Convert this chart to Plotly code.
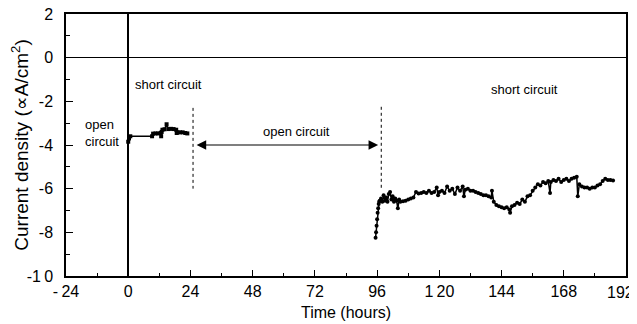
import plotly.graph_objects as go

# ---- data ----
t_first = [0, 0.3, 0.8, 9.2, 9.6, 10.5, 11.5, 12.5, 12.7, 12.9, 13.2, 14, 14.8, 15.5, 16.5, 17.5, 18.5, 18.7, 19, 20, 21, 22, 22.8]
j_first = [-3.85, -3.7, -3.6, -3.6, -3.48, -3.47, -3.47, -3.45, -3.6, -3.4, -3.3, -3.28, -3.05, -3.27, -3.26, -3.27, -3.3, -3.45, -3.42, -3.42, -3.42, -3.45, -3.47]

t_second = [95.4, 95.6, 95.8, 96.0, 96.2, 96.4, 96.6, 96.8, 97.0, 97.5, 98, 98.5, 99, 99.5, 100, 100.5,
            101, 101.5, 102, 102.5, 103, 103.5, 104, 104.5, 105, 106, 107, 108, 109, 110, 111, 112,
            113, 114, 115, 116, 117, 118, 119, 119.5, 120, 121, 122, 123, 124, 125, 126, 127, 128,
            129, 129.5, 130, 131, 132, 133, 134, 135, 136, 137, 138, 139, 140, 140.3, 141, 142, 143,
            144, 145, 146, 147, 147.3, 148, 149, 150, 151, 152, 153, 154, 155, 156, 157, 158, 159,
            160, 161, 162, 162.7, 163, 164, 165, 166, 167, 168, 169, 170, 171, 172, 173, 173.4, 174,
            175, 176, 177, 178, 179, 180, 181, 182, 183, 184, 185, 186, 187]
j_second = [-8.25, -8.0, -7.7, -7.4, -7.1, -6.9, -6.7, -6.6, -6.55, -6.45, -6.6, -6.3, -6.55, -6.4, -6.6, -6.25,
            -6.15, -6.5, -6.35, -6.6, -6.45, -6.55, -6.9, -6.5, -6.6, -6.58, -6.55, -6.5, -6.45, -6.4, -6.15, -6.22,
            -6.2, -6.15, -6.2, -6.1, -6.2, -6.15, -5.95, -6.3, -6.15, -6.1, -6.2, -5.9, -6.1, -6.0, -6.25, -5.95, -6.1,
            -5.9, -6.35, -6.05, -6.0, -6.1, -6.1, -6.15, -6.2, -6.25, -6.3, -6.3, -6.35, -6.4, -6.1, -6.6, -6.75, -6.8,
            -6.85, -6.9, -6.85, -6.95, -7.1, -6.8, -6.75, -6.65, -6.7, -6.5, -6.6, -6.35, -6.3, -6.1, -5.95, -5.8, -5.85,
            -5.7, -5.75, -5.65, -6.2, -5.7, -5.6, -5.65, -5.55, -5.7, -5.6, -5.55, -5.65, -5.55, -5.5, -5.45, -6.35, -5.8,
            -5.9, -5.95, -5.95, -6.0, -5.95, -5.95, -5.85, -5.8, -5.65, -5.55, -5.6, -5.6, -5.63]

x_ticks = [-24, 0, 24, 48, 72, 96, 120, 144, 168, 192]
x_labels = ["-\u200924", "0", "24", "48", "72", "96", "1\u200920", "144", "168", "192"]
y_ticks = [-10, -8, -6, -4, -2, 0, 2]
y_labels = ["-1\u20090", "-8", "-6", "-4", "-2", "0", "2"]

FONT = "Arial, Liberation Sans, sans-serif"

fig = go.Figure()
fig.add_trace(go.Scatter(x=t_first, y=j_first, mode="lines+markers",
                         line=dict(color="black", width=1.5),
                         marker=dict(color="black", size=4, symbol="square"),
                         showlegend=False))
fig.add_trace(go.Scatter(x=t_second, y=j_second, mode="lines+markers",
                         line=dict(color="black", width=1.5),
                         marker=dict(color="black", size=4),
                         showlegend=False))

# dotted vertical markers for switching
for xv, y0 in [(25, -2.3), (97.6, -2.25)]:
    fig.add_shape(type="line", x0=xv, x1=xv, y0=y0, y1=-6.0, xref="x", yref="y",
                  line=dict(color="black", width=1, dash="dot"))

# double-headed arrow
fig.add_annotation(x=96.4, y=-4, ax=25.8, ay=-4, xref="x", yref="y", axref="x", ayref="y",
                   text="", showarrow=True, arrowhead=2, startarrowhead=2, arrowside="end+start",
                   arrowsize=1.6, startarrowsize=1.6, arrowwidth=1.2, arrowcolor="black",
                   standoff=0, startstandoff=0)

ann_font = dict(family=FONT, size=13, color="black")
fig.add_annotation(x=15.5, y=-1.25, text="short circuit", showarrow=False, font=ann_font)
fig.add_annotation(x=153, y=-1.48, text="short circuit", showarrow=False, font=ann_font)
fig.add_annotation(x=65, y=-3.4, text="open circuit", showarrow=False, font=ann_font)
fig.add_annotation(x=-17.6, y=-3.43, text="open<br>circuit", showarrow=False, font=ann_font,
                   xanchor="left", align="left")

# last x tick label drawn right-aligned at the edge so it is not clipped
fig.add_annotation(x=x_ticks[-1], y=0, xref="x", yref="paper", text=x_labels[-1], showarrow=False,
                   xanchor="right", yanchor="top", xshift=10, yshift=-6,
                   font=dict(family=FONT, size=16, color="black"))
x_labels_axis = x_labels[:-1] + [""]

# page body has an 8px margin: figure is sized/margined so the plot area lands at 66..626 x 14..276
fig.update_layout(
    width=629, height=316,
    margin=dict(l=58, r=11, t=6, b=48),
    paper_bgcolor="white", plot_bgcolor="white",
    font=dict(family=FONT, color="black", size=14),
    xaxis=dict(range=[-24, 192], tickvals=x_ticks, ticktext=x_labels_axis, ticks="inside", ticklen=6, tickwidth=1,
               tickcolor="black", showline=True, linecolor="black", linewidth=1.5, mirror=True,
               showgrid=False, zeroline=True, zerolinecolor="black", zerolinewidth=2, automargin=False,
               minor=dict(dtick=12, tick0=0, ticks="inside", ticklen=3, tickcolor="black"),
               tickfont=dict(size=16), ticklabelstandoff=0, ticklabeloverflow="allow",
               title=dict(text="Time (hours)", font=dict(size=16), standoff=8)),
    yaxis=dict(range=[-10, 2], tickvals=y_ticks, ticktext=y_labels, ticks="inside", ticklen=7, tickwidth=1,
               tickcolor="black", showline=True, linecolor="black", linewidth=1.5, mirror=True,
               showgrid=False, zeroline=True, zerolinecolor="black", zerolinewidth=1, automargin=False,
               minor=dict(dtick=1, tick0=0, ticks="inside", ticklen=4, tickcolor="black"),
               tickfont=dict(size=16), ticklabelstandoff=8, ticklabeloverflow="allow",
               title=dict(text="Current density (∝A/cm<sup>2</sup>)", font=dict(size=19), standoff=2)),
)

fig.write_html("out.html")
